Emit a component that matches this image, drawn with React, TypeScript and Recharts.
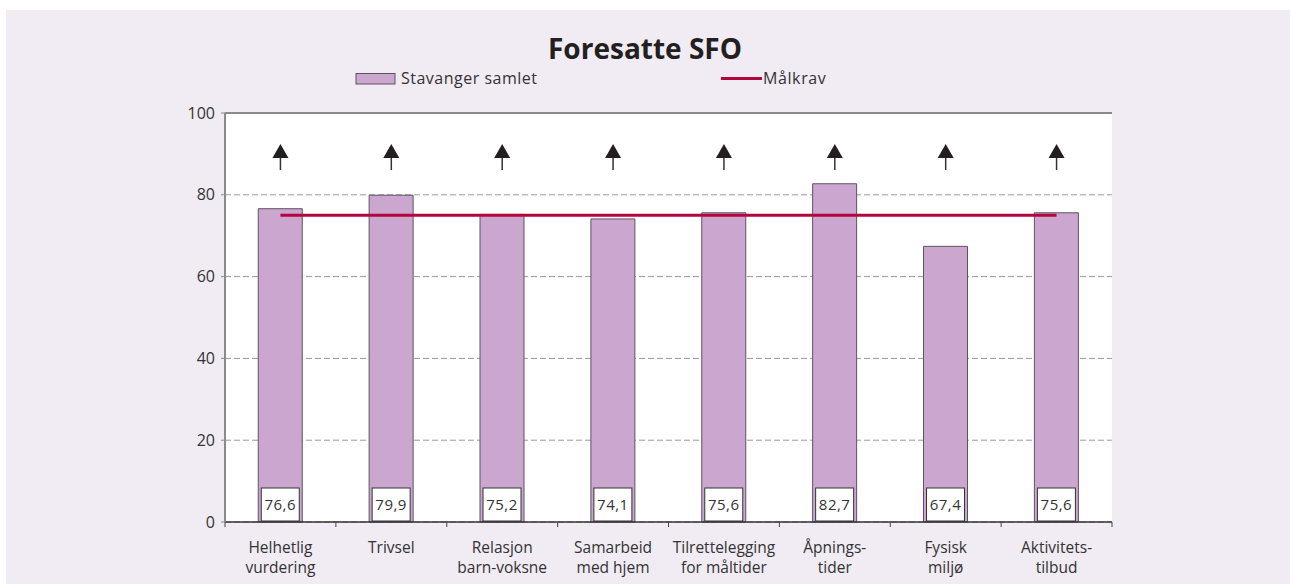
import {
  ComposedChart, Bar, Line, XAxis, YAxis, CartesianGrid, LabelList, ReferenceLine
} from 'recharts';

const categories = [
  ['Helhetlig', 'vurdering'],
  ['Trivsel'],
  ['Relasjon', 'barn-voksne'],
  ['Samarbeid', 'med hjem'],
  ['Tilrettelegging', 'for måltider'],
  ['Åpnings-', 'tider'],
  ['Fysisk', 'miljø'],
  ['Aktivitets-', 'tilbud'],
];
const stavanger = [76.6, 79.9, 75.2, 74.1, 75.6, 82.7, 67.4, 75.6];
const malkrav = [75, 75, 75, 75, 75, 75, 75, 75];
const trendArrow = [92.4, 92.4, 92.4, 92.4, 92.4, 92.4, 92.4, 92.4];
const yTicks = [0, 20, 40, 60, 80, 100];

const data = categories.map((c, i) => ({
  name: c.join(' '),
  lines: c,
  value: stavanger[i],
  target: malkrav[i],
  arrow: trendArrow[i],
}));

const FONT = '"Open Sans", "Noto Sans", sans-serif';
const BAR_FILL = '#cba7d0';
const BAR_STROKE = '#5e5260';
const RED = '#b3063d';
const BG = '#f1ebf3';

const PLOT_LEFT = 225;
const PLOT_RIGHT = 1112;
const HALF_BAND = (PLOT_RIGHT - PLOT_LEFT) / data.length / 2;

const CategoryTick = ({ x, y, payload, index }: any) => {
  const i = payload.index ?? index;
  const lines: string[] = data[i]?.lines ?? [payload.value];
  const last = i === data.length - 1;
  return (
    <g>
      <line x1={x - HALF_BAND} x2={x - HALF_BAND} y1={y} y2={y + 5} stroke="#444" strokeWidth={1} />
      {last && <line x1={x + HALF_BAND} x2={x + HALF_BAND} y1={y} y2={y + 5} stroke="#444" strokeWidth={1} />}
      <text x={x} y={y} textAnchor="middle" fontSize={15.5} fill="#333" fontFamily={FONT}>
        {lines.map((l, k) => (
          <tspan key={k} x={x} dy={k === 0 ? 31 : 20}>{l}</tspan>
        ))}
      </text>
    </g>
  );
};

const ValueBox = (props: any) => {
  const { x, y, width, height, value } = props;
  const bw = 38;
  const bh = 33;
  const cx = x + width / 2;
  const bottom = y + height - 1;
  return (
    <g>
      <rect x={cx - bw / 2} y={bottom - bh} width={bw} height={bh} fill="#fff" stroke="#333" strokeWidth={1} />
      <text x={cx} y={bottom - bh / 2 + 5.5} textAnchor="middle" fontSize={15} letterSpacing={0.5} fill="#333" fontFamily={FONT}>
        {String(value).replace('.', ',')}
      </text>
    </g>
  );
};

const ArrowDot = (props: any) => {
  const { cx, cy, index } = props;
  if (cx == null || cy == null) return <g key={`a-${index}`} />;
  return (
    <g key={`a-${index}`}>
      <line x1={cx} x2={cx} y1={cy + 12} y2={cy + 26} stroke="#333" strokeWidth={1.5} />
      <path d={`M${cx},${cy} L${cx + 8},${cy + 14} L${cx - 8},${cy + 14} Z`} fill="#231f20" />
    </g>
  );
};

export default function App() {
  return (
    <div style={{ position: 'relative', width: 1290, height: 584, background: '#fff', overflow: 'hidden' }}>
      <style>{`body{margin:0}`}</style>
      <div style={{ position: 'absolute', left: 6, top: 10, width: 1284, height: 574, background: BG }} />
      <svg width={1290} height={584} style={{ position: 'absolute', left: 0, top: 0 }}>
        <text x={645} y={59} textAnchor="middle" fontSize={28} fontWeight={700} fill="#231f20" fontFamily={FONT}>
          Foresatte SFO
        </text>
        <rect x={356} y={73.5} width={39} height={10.5} fill={BAR_FILL} stroke={BAR_STROKE} strokeWidth={1} />
        <text x={401} y={84} fontSize={16} letterSpacing={0.5} fill="#333" fontFamily={FONT}>Stavanger samlet</text>
        <line x1={721} x2={762} y1={78.5} y2={78.5} stroke={RED} strokeWidth={3} />
        <text x={763} y={84} fontSize={16} letterSpacing={0.6} fill="#333" fontFamily={FONT}>Målkrav</text>
      </svg>
      <div style={{ position: 'absolute', left: 0, top: 0 }}>
        <ComposedChart
          width={1290}
          height={584}
          data={data}
          margin={{ top: 113, right: 178, bottom: 0, left: 165 }}
          barCategoryGap="30%"
        >
          <CartesianGrid yAxisId="l" vertical={false} fill="#fff" stroke="#9a9a9a" strokeDasharray="6 3" />
          <XAxis
            dataKey="name"
            height={62}
            interval={0}
            tickLine={false}
            tickSize={0}
            tickMargin={0}
            axisLine={{ stroke: '#333', strokeWidth: 1.5 }}
            tick={<CategoryTick />}
          />
          <YAxis
            yAxisId="l"
            domain={[0, 100]}
            ticks={yTicks}
            width={60}
            tickSize={4}
            tickMargin={6}
            axisLine={{ stroke: '#8a8a8a', strokeWidth: 2 }}
            tickLine={{ stroke: '#8a8a8a' }}
            tick={{ fontSize: 16, fill: '#333', fontFamily: FONT }}
          />
          <YAxis
            yAxisId="r"
            orientation="right"
            domain={[0, 100]}
            width={0}
            tick={false}
            tickLine={false}
            axisLine={{ stroke: '#8a8a8a', strokeWidth: 2 }}
          />
          <ReferenceLine yAxisId="l" y={100} stroke="#8a8a8a" strokeWidth={2} />
          <Bar yAxisId="l" dataKey="value" fill={BAR_FILL} stroke={BAR_STROKE} strokeWidth={1} isAnimationActive={false}>
            <LabelList dataKey="value" content={ValueBox} />
          </Bar>
          <Line
            yAxisId="l"
            dataKey="target"
            stroke={RED}
            strokeWidth={3}
            dot={false}
            activeDot={false}
            isAnimationActive={false}
          />
          <Line
            yAxisId="l"
            dataKey="arrow"
            stroke="none"
            dot={ArrowDot}
            activeDot={false}
            isAnimationActive={false}
          />
        </ComposedChart>
      </div>
    </div>
  );
}
